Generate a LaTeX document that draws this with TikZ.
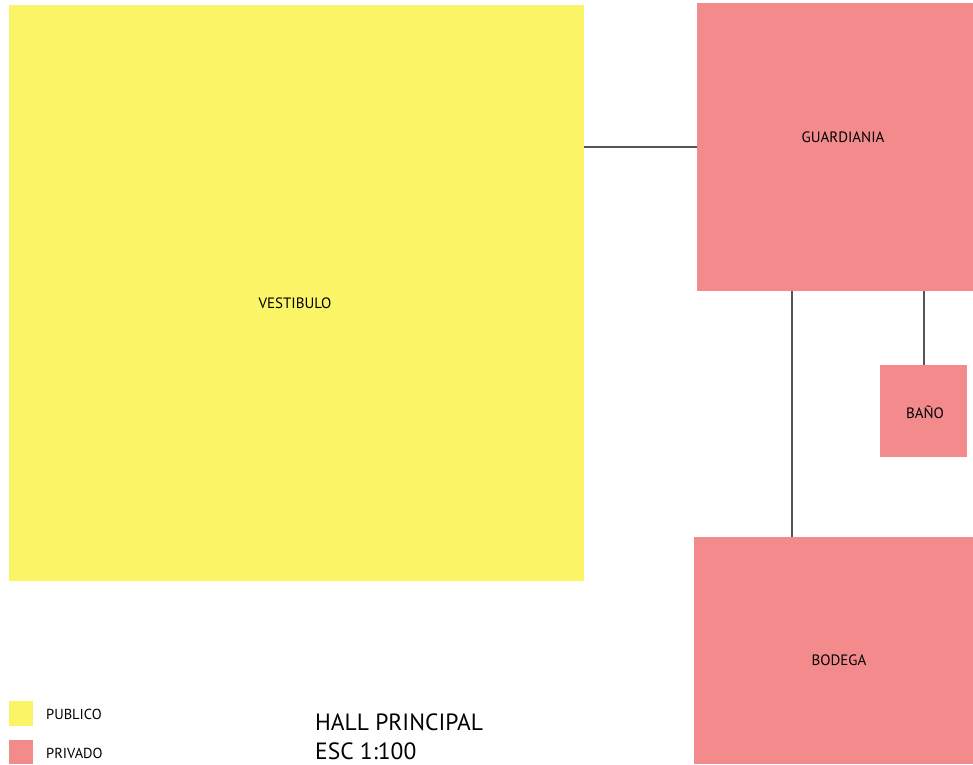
\documentclass[tikz,border=0pt]{standalone}
\usepackage{fontspec}
\setmainfont{PT Sans}
\definecolor{pub}{HTML}{FCF467}
\definecolor{priv}{HTML}{F38B8D}
\definecolor{conn}{HTML}{555555}
\begin{document}
\begin{tikzpicture}[x=1pt,y=-1pt,
  room/.style={inner sep=0pt, font=\fontsize{15}{17}\selectfont},
  link/.style={draw=conn, line width=1.4pt},
  lbl/.style={anchor=west, inner sep=0pt, font=\fontsize{14.5}{16}\selectfont},
  ttl/.style={anchor=base west, inner sep=0pt, font=\fontsize{23.5}{26}\selectfont}]
\useasboundingbox (0,0) rectangle (973,764);
\fill[pub] (9,5) rectangle (584,581);
\fill[priv] (697,3) rectangle (973,291);
\fill[priv] (880,365) rectangle (967,457);
\fill[priv] (694,537) rectangle (973,764);
\node[room] (vest) at (295,303) {VESTIBULO};
\node[room] (guard) at (843,137) {GUARDIANIA};
\node[room] (bano) at (925,412) {BAÑO};
\node[room] (bod) at (839,660) {BODEGA};
\coordinate (vR) at (584,147);
\coordinate (gL) at (697,147);
\coordinate (gB1) at (792,291);
\coordinate (bT) at (792,537);
\coordinate (gB2) at (924,291);
\coordinate (baT) at (924,365);
\draw[link] (vR) -- (gL);
\draw[link] (gB1) -- (bT);
\draw[link] (gB2) -- (baT);
\fill[pub] (9,701) rectangle (33,726);
\fill[priv] (9,740) rectangle (33,764);
\node[lbl] (lp) at (46,714) {PUBLICO};
\node[lbl] (lv) at (46,753) {PRIVADO};
\node[ttl] (t1) at (315,730) {HALL PRINCIPAL};
\node[ttl] (t2) at (315,759) {ESC 1:100};
\end{tikzpicture}
\end{document}
